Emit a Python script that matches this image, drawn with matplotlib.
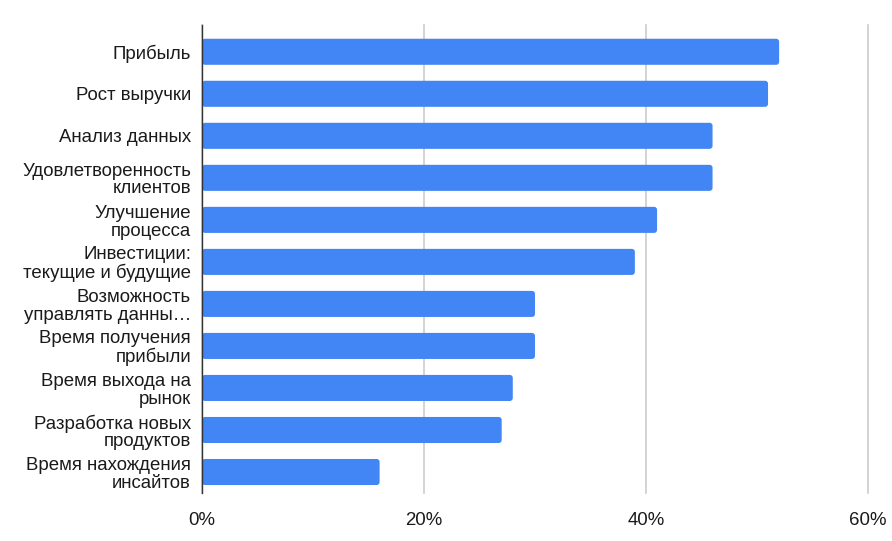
import matplotlib
matplotlib.use("Agg")
import matplotlib.pyplot as plt
from matplotlib.patches import FancyBboxPatch
from matplotlib.ticker import FuncFormatter

plt.rcParams['font.family'] = ['Liberation Sans', 'DejaVu Sans']

categories = [
    "Прибыль",
    "Рост выручки",
    "Анализ данных",
    "Удовлетворенность\nклиентов",
    "Улучшение\nпроцесса",
    "Инвестиции:\nтекущие и будущие",
    "Возможность\nуправлять данны…",
    "Время получения\nприбыли",
    "Время выхода на\nрынок",
    "Разработка новых\nпродуктов",
    "Время нахождения\nинсайтов",
]
values = [52, 51, 46, 46, 41, 39, 30, 30, 28, 27, 16]
x_ticks = [0, 20, 40, 60]

fig = plt.figure(figsize=(8.92, 5.41), dpi=100)
ax = fig.add_axes([0.2265, 0.0887, 0.7465, 0.8653])

pos = list(range(len(categories)))
bars = ax.barh(pos, values, height=0.62, color="#4285F4", zorder=3)

# swap plain rectangles for slightly rounded ones
for b in bars:
    x, y = b.get_x(), b.get_y()
    w, h = b.get_width(), b.get_height()
    rb = FancyBboxPatch((x, y), w, h, boxstyle="round,pad=0,rounding_size=0.27",
                        mutation_aspect=0.26, facecolor="#4285F4",
                        edgecolor="none", zorder=3)
    ax.add_patch(rb)
    b.set_visible(False)

ax.set_xlim(0, 60)
ax.set_ylim(len(categories) - 0.5, -0.64)
ax.set_xticks(x_ticks)
ax.xaxis.set_major_formatter(FuncFormatter(lambda v, p: f"{v:.0f}%"))
ax.set_yticks(pos)
ax.set_yticklabels(categories, linespacing=1.05)
ax.tick_params(axis="both", length=0, labelsize=13.4, colors="#1a1a1a")
ax.tick_params(axis="x", pad=14)
ax.tick_params(axis="y", pad=8)
ax.grid(axis="x", color="#cccccc", linewidth=1.2, zorder=0)
for gl in ax.get_xgridlines():
    gl.set_clip_on(False)

for s in ["top", "right", "bottom"]:
    ax.spines[s].set_visible(False)
ax.spines["left"].set_color("#333333")
ax.spines["left"].set_linewidth(1)
ax.spines["left"].set_zorder(4)

fig.savefig("out.png", dpi=100)
